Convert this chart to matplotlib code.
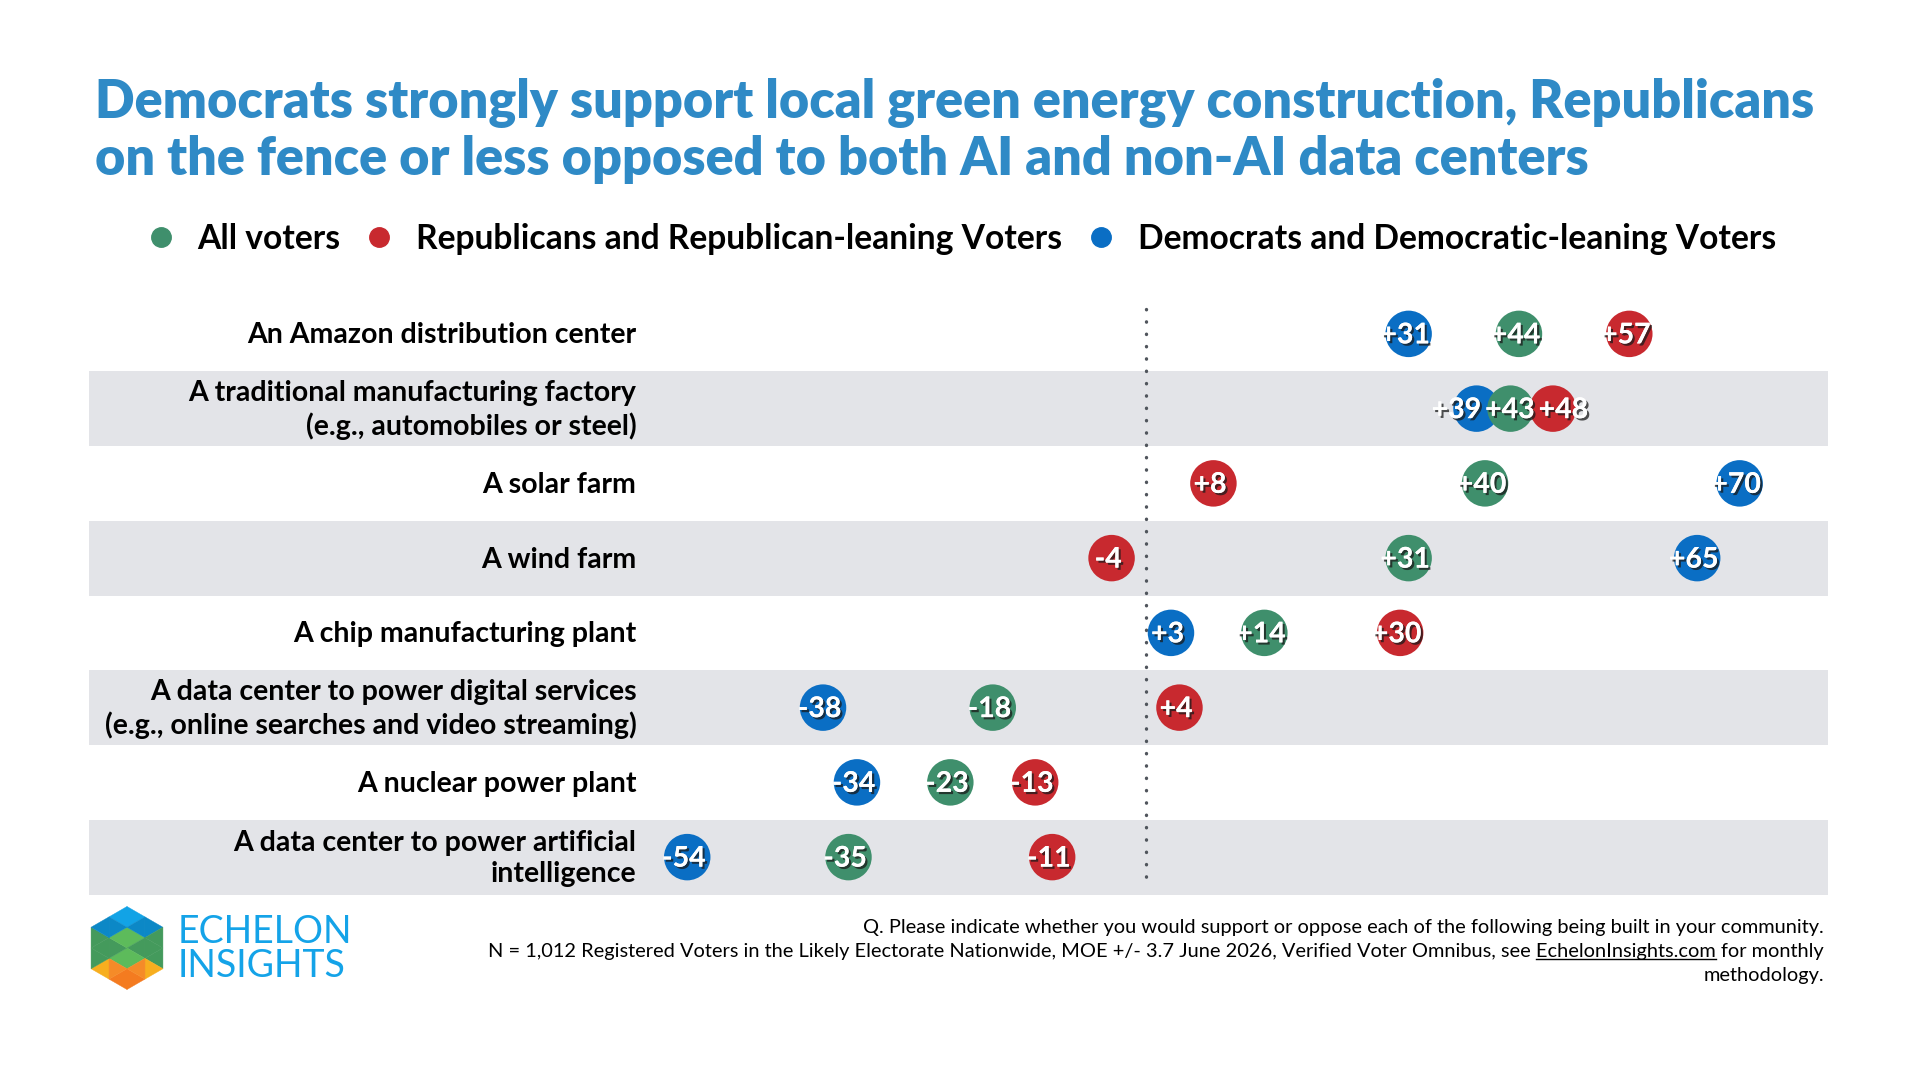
import matplotlib
matplotlib.use("Agg")
import matplotlib.pyplot as plt
import matplotlib.patheffects as pe
from matplotlib.lines import Line2D
from matplotlib.patches import Polygon
from matplotlib.transforms import blended_transform_factory
import numpy as np

plt.rcParams['font.family'] = ['Lato', 'DejaVu Sans']

# survey rows, top to bottom
items = [
    "An Amazon distribution center",
    "A traditional manufacturing factory\n(e.g., automobiles or steel)",
    "A solar farm",
    "A wind farm",
    "A chip manufacturing plant",
    "A data center to power digital services\n(e.g., online searches and video streaming)",
    "A nuclear power plant",
    "A data center to power artificial\nintelligence",
]
all_voters = [44, 43, 40, 31, 14, -18, -23, -35]
republicans = [57, 48, 8, -4, 30, 4, -13, -11]
democrats = [31, 39, 70, 65, 3, -38, -34, -54]

series_names = ["All voters", "Republicans and Republican-leaning Voters",
                "Democrats and Democratic-leaning Voters"]

GREEN = '#3F8F6C'
RED = '#C8292F'
BLUE = '#0A6EC4'
TITLE_BLUE = '#2F8AC6'
BAND = '#E3E4E8'

W, H = 1920, 1080
fig = plt.figure(figsize=(19.2, 10.8), dpi=100)

def fx(px):
    return px / W

def fy(py):
    return 1 - py / H

def spread(vals, gap, n_iter=50):
    # push label positions apart so neighbours keep at least `gap` units
    idx = np.argsort(vals)
    pos = np.array(vals, dtype=float)[idx]
    for _ in range(n_iter):
        for j in range(len(pos) - 1):
            d = pos[j + 1] - pos[j]
            if d < gap:
                pos[j] -= (gap - d) / 2
                pos[j + 1] += (gap - d) / 2
    out = np.empty_like(pos)
    out[idx] = pos
    return out

# title
fig.text(fx(95), fy(118), "Democrats strongly support local green energy construction, Republicans",
         fontsize=37.5, fontweight='heavy', color=TITLE_BLUE, ha='left', va='baseline')
fig.text(fx(95), fy(175), "on the fence or less opposed to both AI and non-AI data centers",
         fontsize=37.5, fontweight='heavy', color=TITLE_BLUE, ha='left', va='baseline')

# legend
handles = [Line2D([], [], marker='o', linestyle='none', markersize=14, color=c)
           for c in (GREEN, RED, BLUE)]
fig.legend(handles, series_names, loc='center', bbox_to_anchor=(0.5, fy(239)), ncol=3,
           frameon=False, prop={'size': 24.2, 'weight': 'bold'}, handletextpad=0.6,
           columnspacing=0.65, handlelength=1.0)

# main chart
x_left, x_right = 89.3, 1828.4
y_top, y_bot = 296.5, 894.5
ax = fig.add_axes([fx(x_left), fy(y_bot), (x_right - x_left) / W, (y_bot - y_top) / H])
ax.set_xlim(-124.45, 80.46)
ax.set_ylim(len(items) - 0.5, -0.5)
ax.axis('off')

rows = np.arange(len(items))
for i in rows:
    if i % 2 == 1:
        ax.axhspan(i - 0.5, i + 0.5, color=BAND, lw=0, zorder=0)

ax.plot([0, 0], [-0.33, 7.40], color='#50555c', lw=2.4, linestyle=(0, (0.1, 3.6)),
        dash_capstyle='round', zorder=1)

lab_tr = blended_transform_factory(ax.transAxes, ax.transData)
for i, name in enumerate(items):
    ax.text((636.4 - x_left) / (x_right - x_left), i + 0.02, name, transform=lab_tr, ha='right',
            va='center', fontsize=20.5, fontweight='bold', color='black', linespacing=1.25)

shadow = [pe.withSimplePatchShadow(offset=(1.6, -1.6), shadow_rgbFace='#1a1a1a', alpha=0.75),
          pe.Normal()]
for i in rows:
    order = ((democrats, BLUE), (all_voters, GREEN), (republicans, RED))
    row_vals = [vals[i] for vals, _ in order]
    label_x = spread(row_vals, 6.3)
    for k, (vals, col) in enumerate(order):
        ax.scatter([vals[i]], [i], s=1120, color=col, edgecolors='none', zorder=3 + k)
    for k, (vals, col) in enumerate(order):
        v = vals[i]
        ax.text(label_x[k] - 0.4, i + 0.02, f"{v:+d}", ha='center', va='center', fontsize=20.5,
                family=['Liberation Sans Narrow', 'Lato'], fontweight='bold',
                color='white', zorder=10, path_effects=shadow)

# footer
fx_right = fx(1824)
fs = 14.4
fig.text(fx_right, fy(927), "Q. Please indicate whether you would support or oppose each of the following being built in your community.",
         ha='right', va='center', fontsize=fs)
line2 = "N = 1,012 Registered Voters in the Likely Electorate Nationwide, MOE +/- 3.7 June 2026, Verified Voter Omnibus, see EchelonInsights.com for monthly"
fig.text(fx_right, fy(951), line2, ha='right', va='center', fontsize=fs)
fig.text(fx_right, fy(975), "methodology.", ha='right', va='center', fontsize=fs)

# underline the link
renderer = fig.canvas.get_renderer()
t1 = fig.text(fx_right, fy(951), " for monthly", ha='right', va='center', fontsize=fs)
t2 = fig.text(fx_right, fy(951), "EchelonInsights.com for monthly", ha='right', va='center', fontsize=fs)
x_end = t1.get_window_extent(renderer).x0
x_start = t2.get_window_extent(renderer).x0
t1.remove()
t2.remove()
fig.add_artist(Line2D([x_start / W, x_end / W], [fy(959), fy(959)], transform=fig.transFigure,
                      color='black', lw=1.0))

# logo
lax = fig.add_axes([fx(90), fy(990), 74 / W, 84 / H])
lax.set_xlim(-37, 37)
lax.set_ylim(-42, 42)
lax.axis('off')
R = 41.5
ang = np.deg2rad([90, 30, -30, -90, -150, 150])
verts = np.c_[R * np.cos(ang), R * np.sin(ang)]
for k in range(6):
    a = np.array([0.0, 0.0])
    b = verts[k]
    c = verts[(k + 1) % 6]
    mab, mbc, mca = (a + b) / 2, (b + c) / 2, (c + a) / 2
    for tri in ([a, mab, mca], [mab, b, mbc], [mca, mbc, c], [mab, mbc, mca]):
        tri = np.array(tri)
        cx, cy = tri.mean(axis=0)
        if cy > 0.4 * R:
            col = '#12A3E6' if abs(cx) < 0.2 * R else '#0C88C6'
        elif cy > -0.4 * R:
            col = '#5DBB5B' if abs(cx) < 0.2 * R else '#449A5C'
        else:
            if abs(cx) < 0.2 * R:
                col = '#F47B20'
            elif abs(cx) < 0.4 * R:
                col = '#F58B28'
            else:
                col = '#F7AE1F'
        lax.add_patch(Polygon(tri, closed=True, facecolor=col, edgecolor=col, lw=0.3))

fig.text(fx(178), fy(932), "ECHELON", ha='left', va='center', fontsize=27,
         fontweight='normal', color='#14A3E8')
fig.text(fx(178), fy(966), "INSIGHTS", ha='left', va='center', fontsize=27,
         fontweight='normal', color='#14A3E8')

fig.savefig("out.png", dpi=100)
